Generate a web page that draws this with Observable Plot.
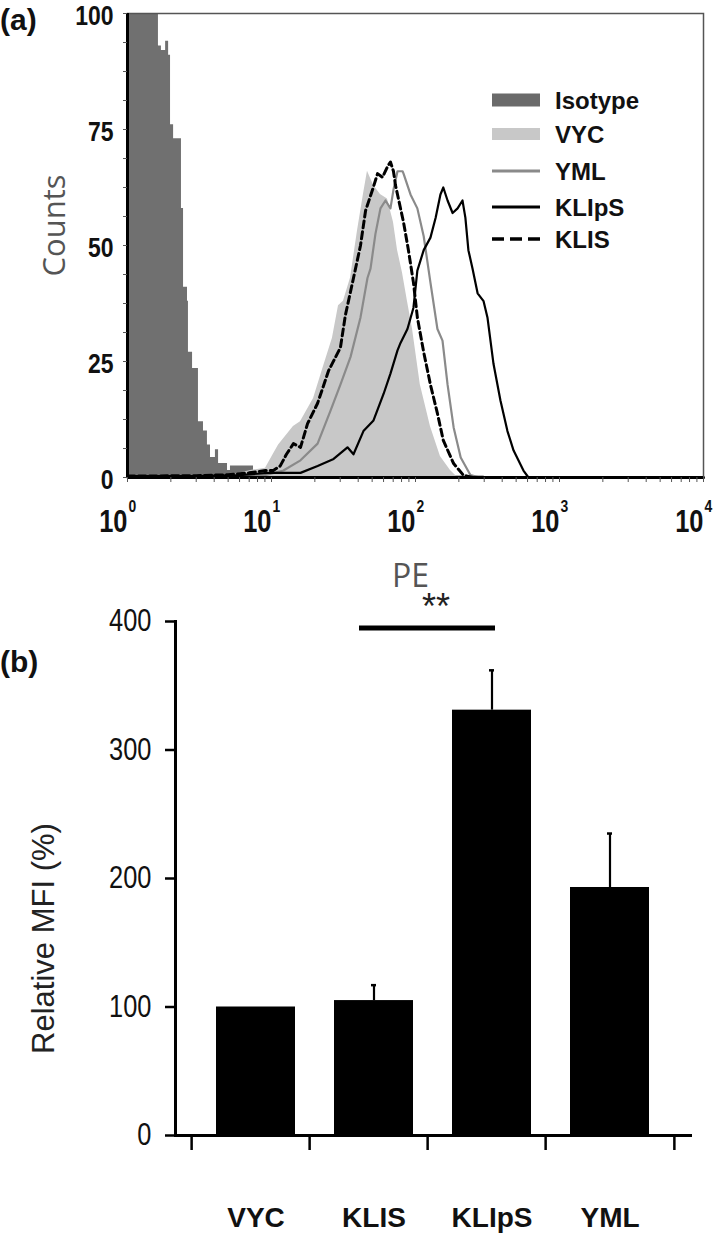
<!DOCTYPE html>
<html><head><meta charset="utf-8">
<script src="https://cdn.jsdelivr.net/npm/d3@7"></script>
<script src="https://cdn.jsdelivr.net/npm/@observablehq/plot@0.6"></script>
<style>
body{margin:0;background:#fff;}
#wrap{position:relative;width:715px;height:1259px;overflow:hidden;}
.tag{position:absolute;left:0;font-family:"Liberation Sans",Arial,sans-serif;font-weight:bold;font-size:30px;color:#111;line-height:34px;}
#legend{position:absolute;left:485px;top:85px;}
</style></head><body>
<div id="wrap">
  <div id="pa"></div>
  <div id="pb"></div>
  <div class="tag" style="top:3px">(a)</div>
  <div class="tag" style="top:645px">(b)</div>
  <svg id="legend" width="190" height="170"></svg>
</div>
<script>
// ---------- Panel (a): flow cytometry histograms (PE, counts) ----------
const isoPE    = [1, 1.64, 1.72, 1.84, 1.93, 1.99, 2.09, 2.37, 2.45, 2.61, 2.65, 2.83, 3.11, 3.37, 3.59, 3.77, 4.08, 4.29, 4.95, 5.19, 6.29, 7.5, 9.38, 12, 80, 120, 300, 10000];
const isoCount = [100, 93, 92, 94, 91, 76, 73, 58, 41, 38, 27, 23.5, 12, 10, 7, 4.3, 6, 3, 1.5, 2.5, 2.5, 1.5, 1, 0.4, 1, 0.3, 0, 0];

const vycPE    = [1, 5, 7.15, 9.09, 10.3, 11.2, 14.2, 15.9, 19.6, 23, 26.5, 29.2, 31.6, 35.4, 39.5, 43.5, 46.4, 51.1, 57.1, 63.9, 70.3, 75, 81.3, 87.9, 95.3, 108, 127, 149, 175, 196, 10000];
const vycCount = [0, 0.3, 1.5, 2, 5, 7, 11, 12, 17, 24, 30, 37, 38, 43, 53, 61, 66, 63, 61, 60, 55, 49, 44, 38, 32, 20, 11, 4.5, 1.5, 0, 0];

const ymlPE    = [1, 9, 12.1, 15.9, 20.9, 25.7, 30.1, 35.4, 41.5, 46.4, 48.7, 52.7, 57.1, 61.9, 67, 70.3, 75, 81.3, 82.6, 92.3, 103, 114, 127, 142, 154, 167, 184, 206, 241, 280, 10000];
const ymlCount = [0, 0.5, 1.5, 3.7, 7.3, 14.4, 20, 26, 34.5, 43, 45, 52.5, 58, 59.7, 58, 62, 66, 66, 65.5, 61, 58, 52, 42, 32, 29.5, 20, 10.8, 4.3, 0.5, 0, 0];

const klipsPE    = [1, 3, 6, 9.4, 15.9, 20.9, 27, 33.7, 37.1, 43.5, 51.1, 60, 67, 75, 78.7, 87.9, 96.8, 103, 114, 127, 138, 149, 156, 167, 181, 196, 212, 222, 233, 249, 270, 297, 316, 348, 389, 435, 480, 562, 609, 10000];
const klipsCount = [0.3, 0.3, 0.5, 1, 1, 2.5, 4, 6.5, 5, 10, 12.3, 18, 22.4, 27.4, 29, 32, 36.6, 44.6, 49, 51.7, 56, 61, 62.5, 59.7, 57, 58, 59.7, 56, 49, 45, 39.7, 38, 34.5, 24.5, 16.6, 10, 5.8, 1.5, 0, 0];

const klisPE    = [1, 3, 5, 7, 9.09, 10.3, 11.5, 12.7, 14.2, 15.9, 17.8, 20.9, 24.9, 30.1, 32.6, 37.1, 41.5, 45, 50.3, 54.5, 59, 63.9, 67, 70.3, 72.6, 82.6, 89.3, 96.8, 103, 114, 127, 142, 156, 184, 215, 250, 10000];
const klisCount = [0.3, 0.4, 0.6, 1, 1.5, 1.5, 2.5, 5, 7.3, 6.5, 11.6, 16, 23, 28, 35, 43, 50, 57.5, 62, 65.5, 64.7, 67, 68, 66, 63, 55, 49, 42, 34.5, 27, 20, 13.8, 8, 3, 0.5, 0, 0];

const countTicks = [0, 6.25, 12.5, 18.75, 25, 31.25, 37.5, 43.75, 50, 56.25, 62.5, 68.75, 75, 81.25, 87.5, 93.75, 100];
const countLabels = [0, 25, 50, 75, 100];
const decades = [1, 10, 100, 1000, 10000];
const decadeExp = ["0", "1", "2", "3", "4"];
const legendNames = ["Isotype", "VYC", "YML", "KLIpS", "KLIS"];

// ---------- Panel (b): relative MFI bars ----------
const groups = ["VYC", "KLIS", "KLIpS", "YML"];
const mfi    = [100, 105, 331, 193];
const mfiErr = [0, 12, 31, 42];
const mfiTicks = [0, 100, 200, 300, 400];
const sigFrom = "KLIS", sigTo = "KLIpS", sigY = 395, sigTextY = 411, sigLabel = "**";

// ---------- build ----------
const zip = (xs, ys) => xs.map((x, i) => ({pe: x, count: ys[i]}));
const iso = zip(isoPE, isoCount), vyc = zip(vycPE, vycCount), yml = zip(ymlPE, ymlCount),
      klips = zip(klipsPE, klipsCount), klis = zip(klisPE, klisCount);

const sans = '"Liberation Sans",Arial,sans-serif';
const thin = '"Open Sans","Lato",sans-serif';

// horizontally condense numeric labels (Arial Narrow look)
function condense(svg, k) {
  d3.select(svg).selectAll("text").each(function () {
    const t = this.textContent.trim();
    if (!/^\d+$/.test(t)) return;
    const tr = this.getAttribute("transform");
    if (tr) this.setAttribute("transform", tr + ` scale(${k},1)`);
    else {
      const x = +(this.getAttribute("x") || 0), y = +(this.getAttribute("y") || 0);
      this.removeAttribute("x"); this.removeAttribute("y");
      this.setAttribute("transform", `translate(${x},${y}) scale(${k},1)`);
    }
  });
}

const W = 715;
const A = {h: 595, mt: 13, mb: 118, ml: 127, mr: 12};
const plotA = Plot.plot({
  width: W, height: A.h,
  marginTop: A.mt, marginBottom: A.mb, marginLeft: A.ml, marginRight: A.mr,
  style: {background: "white", fontFamily: sans, overflow: "visible"},
  x: {type: "log", domain: [1, 10000], axis: null},
  y: {domain: [0, 100], axis: null},
  marks: [
    Plot.areaY(iso, {x: "pe", y: "count", curve: "step-after", fill: "#707070", clip: true}),
    Plot.areaY(vyc, {x: "pe", y: "count", fill: "#c8c8c8", clip: true}),
    Plot.lineY(yml, {x: "pe", y: "count", stroke: "#8a8a8a", strokeWidth: 2.2}),
    Plot.lineY(klips, {x: "pe", y: "count", stroke: "#000", strokeWidth: 2.2}),
    Plot.lineY(klis, {x: "pe", y: "count", stroke: "#000", strokeWidth: 3, strokeDasharray: "7,4"}),
    Plot.frame({stroke: "#555", strokeWidth: 1.5}),
    Plot.ruleX([1], {stroke: "#000", strokeWidth: 3}),
    Plot.ruleY([0], {stroke: "#000", strokeWidth: 3}),
    Plot.axisY({ticks: countTicks, tickSize: 4, stroke: "#555", text: null, label: null}),
    Plot.text(countLabels, {y: d => d, frameAnchor: "left", textAnchor: "end", lineAnchor: "middle", text: d => String(d),
      dx: -14, dy: 3, fontSize: 28, fontWeight: "bold", fontFamily: sans, fill: "#111"}),
    Plot.axisX({ticks: d3.scaleLog().domain([1, 10000]).ticks(), tickSize: 5, stroke: "#555",
      tickFormat: () => "", label: null}),
    Plot.text(decades, {x: d => d, frameAnchor: "bottom", lineAnchor: "middle", text: () => "10",
      textAnchor: "end", dy: 45, fontSize: 31, fontWeight: "bold", fontFamily: sans, fill: "#111"}),
    Plot.text(decades, {x: d => d, frameAnchor: "bottom", lineAnchor: "middle", text: (d, i) => decadeExp[i],
      textAnchor: "start", dx: 1, dy: 29, fontSize: 17, fontWeight: "bold", fontFamily: sans, fill: "#111"}),
    Plot.text(["Counts"], {frameAnchor: "left", lineAnchor: "middle", textAnchor: "middle", text: d => d, rotate: -90,
      dx: -72, dy: -20, fontSize: 31, fontFamily: thin, fill: "#555"}),
    Plot.text(["PE"], {frameAnchor: "bottom", lineAnchor: "middle", textAnchor: "middle", text: d => d,
      dx: -5, dy: 99, fontSize: 32, fontFamily: thin, fill: "#555"})
  ]
});
document.getElementById("pa").appendChild(plotA);
condense(plotA, 0.82);

const B = {h: 664, mt: 26, mb: 124, ml: 175, mr: 25};
const step = (W - B.ml - B.mr) / groups.length;
const bars = groups.map((g, i) => ({g, v: mfi[i], e: mfiErr[i]}));
const errBars = bars.filter(d => d.e > 0);
const sig = [{from: sigFrom, to: sigTo, y: sigY, ty: sigTextY, label: sigLabel}];
const plotB = Plot.plot({
  width: W, height: B.h,
  marginTop: B.mt, marginBottom: B.mb, marginLeft: B.ml, marginRight: B.mr,
  style: {background: "white", fontFamily: sans, overflow: "visible"},
  x: {domain: groups, padding: 0.33, axis: null},
  y: {domain: [0, 400], axis: null},
  marks: [
    Plot.barY(bars, {x: "g", y: "v", fill: "#000"}),
    Plot.ruleX(errBars, {x: "g", y1: "v", y2: d => d.v + d.e, stroke: "#000", strokeWidth: 2.2}),
    Plot.tickY(errBars, {x: "g", y: d => d.v + d.e, stroke: "#000", strokeWidth: 2.5, insetLeft: 37, insetRight: 37}),
    Plot.ruleY(sig, {x1: "from", x2: "to", y: "y", stroke: "#000", strokeWidth: 5, insetLeft: 25, insetRight: 36}),
    Plot.text(sig, {x: "from", y: "ty", text: "label", dx: 62, fontSize: 36, letterSpacing: 4, fontFamily: sans, fill: "#222"}),
    Plot.frame({anchor: "left", stroke: "#000", strokeWidth: 3}),
    Plot.frame({anchor: "bottom", stroke: "#000", strokeWidth: 3}),
    Plot.ruleX(groups, {x: d => d, y1: 0, y2: 0, dx: -step / 2, insetBottom: -15, stroke: "#000", strokeWidth: 2.5}),
    Plot.ruleX(groups.slice(-1), {x: d => d, y1: 0, y2: 0, dx: step / 2, insetBottom: -15, stroke: "#000", strokeWidth: 2.5}),
    Plot.axisY({ticks: mfiTicks, tickSize: 10, tickPadding: 14, strokeWidth: 2.5,
      fontSize: 31, fontFamily: sans, fill: "#111", label: null}),
    Plot.text(groups, {x: d => d, frameAnchor: "bottom", lineAnchor: "middle", dy: 83,
      fontSize: 28, fontWeight: "bold", fontFamily: sans, fill: "#111"}),
    Plot.text(["Relative MFI (%)"], {frameAnchor: "left", lineAnchor: "middle", textAnchor: "middle", text: d => d, rotate: -90,
      dx: -131, dy: 60, fontSize: 31, fontFamily: sans, fill: "#222"})
  ]
});
document.getElementById("pb").appendChild(plotB);
condense(plotB, 0.82);

// ---------- legend for panel (a) ----------
const legendStyle = {
  "Isotype": {type: "rect", fill: "#6a6a6a", h: 13},
  "VYC": {type: "rect", fill: "#c8c8c8", h: 12},
  "YML": {type: "line", stroke: "#8a8a8a", w: 3},
  "KLIpS": {type: "line", stroke: "#000", w: 3},
  "KLIS": {type: "line", stroke: "#000", w: 3.5, dash: "12,6"}
};
const rowY = [15, 49, 86, 122, 154];
const lg = d3.select("#legend");
legendNames.forEach((name, i) => {
  const s = legendStyle[name], y = rowY[i];
  if (s.type === "rect") {
    lg.append("rect").attr("x", 7).attr("y", y - s.h / 2).attr("width", 48).attr("height", s.h).attr("fill", s.fill);
  } else {
    lg.append("line").attr("x1", 7).attr("x2", 55).attr("y1", y).attr("y2", y)
      .attr("stroke", s.stroke).attr("stroke-width", s.w).attr("stroke-dasharray", s.dash || null);
  }
  lg.append("text").attr("x", 70).attr("y", y).attr("dy", "0.36em")
    .attr("font-family", sans).attr("font-weight", "bold").attr("font-size", 24).attr("fill", "#111").text(name);
});
</script>
</body></html>
